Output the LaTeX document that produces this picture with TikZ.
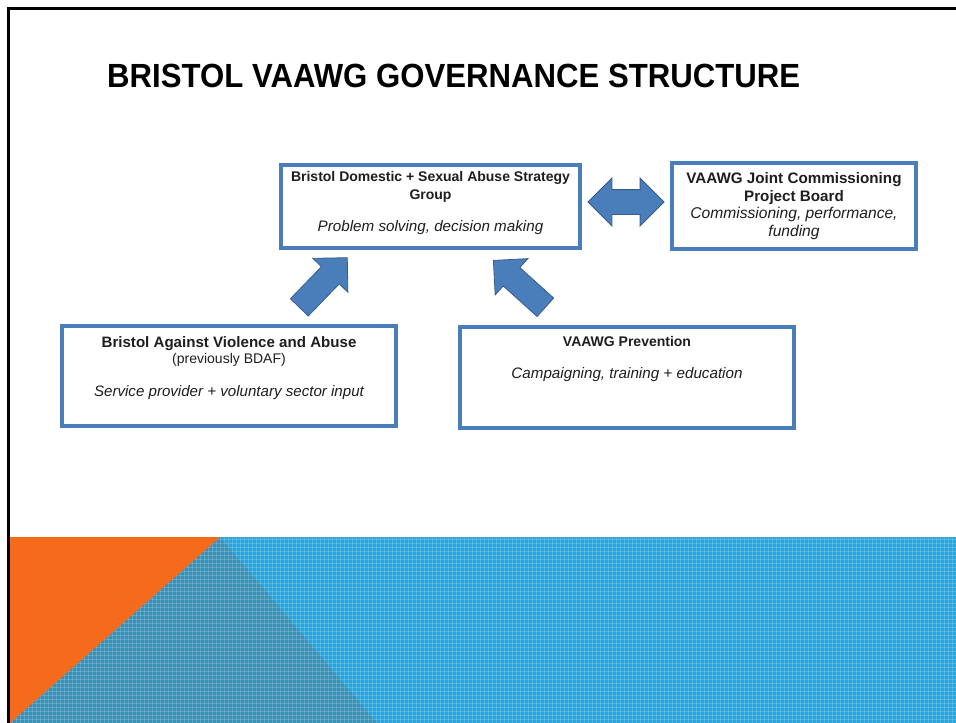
\documentclass[tikz,border=0pt]{standalone}
\usepackage{fontspec}
\setmainfont{Liberation Sans}
\usepackage{graphicx}
\usepackage{tikz}
\usetikzlibrary{positioning,shapes.arrows}

\definecolor{boxblue}{RGB}{74,126,187}
\definecolor{arrowedge}{RGB}{56,93,138}
\definecolor{bandblue}{RGB}{40,165,221}
\definecolor{banddark}{RGB}{56,145,184}
\definecolor{bandorange}{RGB}{246,106,28}
\definecolor{inktext}{RGB}{30,30,30}

\begin{document}
\begin{tikzpicture}[x=1pt,y=-1pt,
	govbox/.style={draw=boxblue, line width=3.2pt, fill=white},
	govtext/.style={inner sep=0pt, align=center, text=inktext, font=\fontsize{14}{18}\selectfont},
	blockarrow/.style={fill=boxblue, draw=arrowedge, line width=0.8pt, inner xsep=0pt, inner ysep=12pt},
	gridline/.style={white, opacity=0.18, line width=1pt}]
\useasboundingbox (0,0) rectangle (956,723);
\fill[white] (0,0) rectangle (956,723);
\draw[line width=2.6pt] (8.5,723) -- (8.5,8.5) -- (956,8.5);

\fill[bandblue] (10,537) rectangle (956,723);
\fill[banddark] (220,537) -- (377,723) -- (10,723) -- cycle;
\begin{scope}
\clip (10,537) rectangle (956,723);
\foreach \gx in {12,16,...,956} \draw[gridline] (\gx,537) -- (\gx,723);
\foreach \gy in {539,543,...,723} \draw[gridline] (10,\gy) -- (956,\gy);
\end{scope}
\fill[bandorange] (10,537) -- (220,537) -- (10,723) -- cycle;

\node[anchor=base west, inner sep=0pt, font=\fontsize{33.5}{36}\selectfont\bfseries] (title) at (107,87)
	{\scalebox{0.93}[1]{BRISTOL VAAWG GOVERNANCE STRUCTURE}};

\node[govbox, minimum width=299pt, minimum height=83pt] (strategy) at (430.5,206.5) {};
\node[govbox, minimum width=244pt, minimum height=86pt] (board) at (794,206) {};
\node[govbox, minimum width=334pt, minimum height=100pt] (bava) at (229,376) {};
\node[govbox, minimum width=334pt, minimum height=101pt] (prevention) at (627,377.5) {};

\node[govtext, below=8pt of strategy.north] (strategytxt)
	{\textbf{Bristol Domestic + Sexual Abuse Strategy}\\ \textbf{Group}\\[14pt]
	{\fontsize{15.2}{18}\selectfont\itshape Problem solving, decision making}};
\node[govtext, font=\fontsize{15.2}{17.5}\selectfont, below=11pt of board.north] (boardtxt)
	{\textbf{VAAWG Joint Commissioning}\\ \textbf{Project Board}\\
	{\fontsize{15.6}{17.5}\selectfont\itshape Commissioning, performance,}\\
	{\fontsize{15.6}{17.5}\selectfont\itshape funding}};
\node[govtext, font=\fontsize{15.1}{16.5}\selectfont, below=11.5pt of bava.north] (bavatxt)
	{\textbf{Bristol Against Violence and Abuse}\\
	{\fontsize{14}{16.5}\selectfont (previously BDAF)}\\[16pt]
	{\itshape Service provider + voluntary sector input}};
\node[govtext, below=11pt of prevention.north] (preventiontxt)
	{\textbf{VAAWG Prevention}\\[14pt]
	{\fontsize{15.2}{18}\selectfont\itshape Campaigning, training + education}};

\node[blockarrow, double arrow, double arrow head extend=11.5pt, minimum height=76pt] (link) at (626,202) {};
\node[blockarrow, single arrow, single arrow head extend=12pt, minimum height=69pt, rotate=46] (bavaup) at (319,287) {};
\node[blockarrow, single arrow, single arrow head extend=12pt, minimum height=70pt, rotate=138] (preventionup) at (524,288) {};
\end{tikzpicture}
\end{document}
